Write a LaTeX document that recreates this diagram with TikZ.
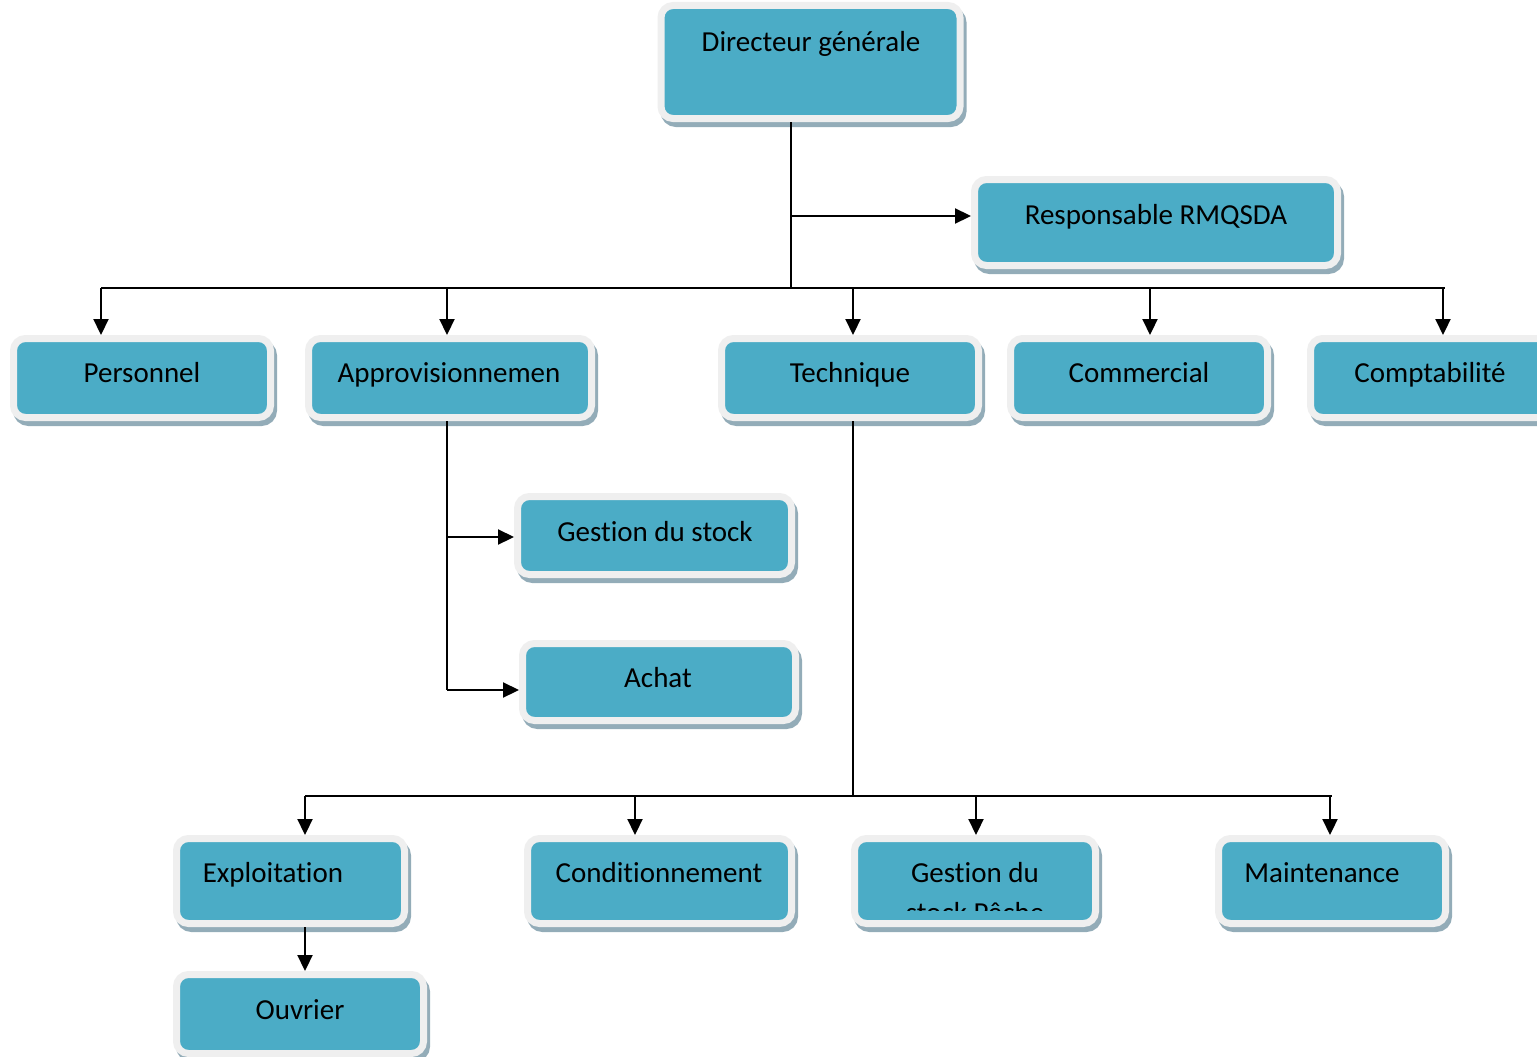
\documentclass[tikz,border=0pt]{standalone}
\usepackage{fontspec}
\setmainfont{Carlito}[Ligatures=NoCommon]
\usetikzlibrary{arrows.meta,shadows}
\definecolor{tealbox}{HTML}{4BACC6}
\definecolor{rimcol}{HTML}{EFEFEF}
\definecolor{shadcol}{HTML}{93ACB8}
\begin{document}
\begin{tikzpicture}[x=1pt,y=-1pt,
 box/.style={draw=rimcol, fill=tealbox, line width=7pt, rounded corners=12pt, inner sep=0pt, outer sep=3.5pt,
   general shadow={draw=shadcol, fill=shadcol, line width=7pt, shadow xshift=3pt, shadow yshift=-5pt}},
 lbl/.style={anchor=base, font=\fontsize{29}{35}\selectfont, inner sep=0pt},
 conn/.style={line width=2.2pt, black},
 arr/.style={conn, -{Triangle[length=16pt,width=15pt]}}]
\clip (0,0) rectangle (1537,1057);
% boxes
\node[box, minimum width=299, minimum height=113] (dir) at (810.5,62) {};
\node[box, minimum width=363, minimum height=86] (resp) at (1156,222.5) {};
\node[box, minimum width=257, minimum height=79] (pers) at (142,378) {};
\node[box, minimum width=283, minimum height=79] (appro) at (450,378) {};
\node[box, minimum width=257, minimum height=79] (tech) at (850,378) {};
\node[box, minimum width=257, minimum height=79] (comm) at (1139,378) {};
\node[box, minimum width=257, minimum height=79] (compta) at (1439,378) {};
\node[box, minimum width=274, minimum height=78] (gstock) at (654.5,535.5) {};
\node[box, minimum width=273, minimum height=77] (achat) at (659,682) {};
\node[box, minimum width=228, minimum height=85] (expl) at (290.5,881) {};
\node[box, minimum width=264, minimum height=85] (cond) at (659.5,881) {};
\node[box, minimum width=241, minimum height=85] (gdu) at (975,881) {};
\node[box, minimum width=227, minimum height=85] (maint) at (1332,881) {};
\node[box, minimum width=247, minimum height=79] (ouvr) at (300,1014) {};
% labels
\node[lbl] (tdir) at (811,52) {Directeur générale};
\node[lbl] (tresp) at (1156,224) {Responsable RMQSDA};
\node[lbl] (tpers) at (142,382) {Personnel};
\node[lbl] (tappro) at (449,382) {Approvisionnemen};
\node[lbl] (ttech) at (850,382) {Technique};
\node[lbl] (tcomm) at (1139,382) {Commercial};
\node[lbl] (tcompta) at (1430,382) {Comptabilité};
\node[lbl] (tgstock) at (655,541) {Gestion du stock};
\node[lbl] (tachat) at (658,687) {Achat};
\node[lbl] (texpl) at (273,882) {Exploitation};
\node[lbl] (tcond) at (659,882) {Conditionnement};
\node[lbl] (tgdu) at (975,882) {Gestion du};
\begin{scope}
\clip (858,842) rectangle (1092,910);
\node[lbl] (tgdu2) at (975,922) {stock Pêche};
\end{scope}
\node[lbl] (tmaint) at (1322,882) {Maintenance};
\node[lbl] (touvr) at (300,1019) {Ouvrier};
% connectors
\coordinate (j0) at (791,288);
\coordinate (jr) at (791,216);
\coordinate (hl) at (101,288);
\coordinate (hr) at (1445,288);
\draw[conn] (dir.south -| j0) -- (j0);
\draw[arr] (jr) -- (jr -| resp.west);
\draw[conn] (hl) -- (hr);
\coordinate (d1) at (101,288);
\coordinate (d2) at (447,288);
\coordinate (d3) at (853,288);
\coordinate (d4) at (1150,288);
\coordinate (d5) at (1443,288);
\draw[arr] (d1) -- (d1 |- pers.north);
\draw[arr] (d2) -- (d2 |- appro.north);
\draw[arr] (d3) -- (d3 |- tech.north);
\draw[arr] (d4) -- (d4 |- comm.north);
\draw[arr] (d5) -- (d5 |- compta.north);
% approvisionnement branch
\coordinate (a0) at (447,690);
\coordinate (a1) at (447,537);
\draw[conn] (appro.south -| a0) -- (a0);
\draw[arr] (a1) -- (a1 -| gstock.west);
\draw[arr] (a0) -- (a0 -| achat.west);
% technique branch
\coordinate (t0) at (853,796);
\coordinate (tl) at (305,796);
\coordinate (tr) at (1332,796);
\draw[conn] (tech.south -| t0) -- (t0);
\draw[conn] (tl) -- (tr);
\coordinate (e1) at (305,796);
\coordinate (e2) at (635,796);
\coordinate (e3) at (976,796);
\coordinate (e4) at (1330,796);
\draw[arr] (e1) -- (e1 |- expl.north);
\draw[arr] (e2) -- (e2 |- cond.north);
\draw[arr] (e3) -- (e3 |- gdu.north);
\draw[arr] (e4) -- (e4 |- maint.north);
\coordinate (o1) at (305,925);
\draw[arr] (expl.south -| o1) -- (o1 |- ouvr.north);
\end{tikzpicture}
\end{document}
